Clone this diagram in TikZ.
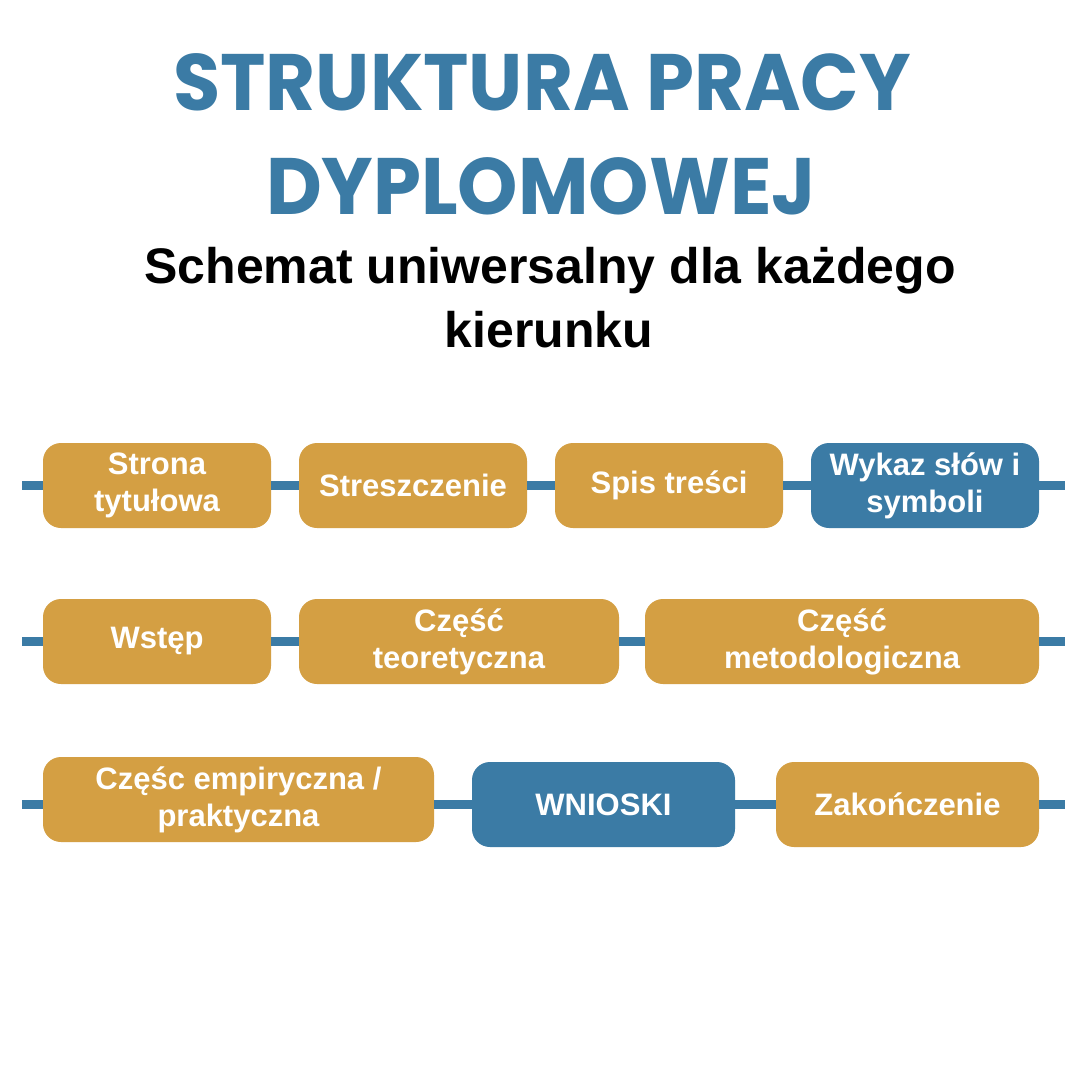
\documentclass[tikz,border=0pt]{standalone}
\usepackage{fontspec}
\setmainfont{Liberation Sans}
\newfontfamily\titlefont{Poppins}
\begin{document}
\begin{tikzpicture}[x=1pt,y=-1pt,
  box/.style={rounded corners=18pt, minimum height=85pt, inner sep=0pt, align=center,
    text=white, font=\fontsize{31}{37}\selectfont\bfseries},
  gold/.style={box, fill=goldc},
  blue/.style={box, fill=bluec},
  conn/.style={draw=bluec, line width=9pt},
  ttl/.style={text=bluec, font=\titlefont\fontsize{80}{100}\selectfont\bfseries, anchor=base, inner sep=0pt},
  sub/.style={text=black, font=\fontsize{50}{60}\selectfont\bfseries, anchor=base, inner sep=0pt}]
\definecolor{goldc}{HTML}{D49F43}
\definecolor{bluec}{HTML}{3B7BA5}
\useasboundingbox[fill=white] (0,0) rectangle (1080,1080);

% titles
\node[ttl] (t1) at (542,110) {\scalebox{0.96}[1]{STRUKTURA PRACY}};
\node[ttl] (t2) at (541,214) {\scalebox{0.96}[1]{DYPLOMOWEJ}};
\node[sub] (s1) at (550,283) {Schemat uniwersalny dla każdego};
\node[sub] (s2) at (549,347) {kierunku};

% edge coordinates
\coordinate (L1) at (22,485.5);  \coordinate (R1) at (1065,485.5);
\coordinate (L2) at (22,641.5);  \coordinate (R2) at (1065,641.5);
\coordinate (L3) at (22,804);    \coordinate (R3) at (1065,804);

% row 1
\node[gold, minimum width=228pt] (a1) at (157,485.5) {Strona\\tytułowa};
\node[gold, minimum width=228pt] (a2) at (413,485.5) {Streszczenie};
\node[gold, minimum width=228pt] (a3) at (669,485.5) {Spis treści};
\node[blue, minimum width=228pt] (a4) at (925,485.5) {Wykaz słów i\\symboli};

% row 2
\node[gold, minimum width=228pt] (b1) at (157,641.5) {Wstęp};
\node[gold, minimum width=320pt] (b2) at (459,641.5) {Część\\teoretyczna};
\node[gold, minimum width=394pt] (b3) at (842,641.5) {Część\\metodologiczna};

% row 3
\node[gold, minimum width=391pt] (c1) at (238.5,799.5) {Częśc empiryczna /\\praktyczna};
\node[blue, minimum width=263pt] (c2) at (603.5,804.5) {WNIOSKI};
\node[gold, minimum width=263pt] (c3) at (907.5,804.5) {Zakończenie};

% connectors
\draw[conn] (L1) -- (a1.west |- L1);
\draw[conn] (a1.east |- L1) -- (a2.west |- L1);
\draw[conn] (a2.east |- L1) -- (a3.west |- L1);
\draw[conn] (a3.east |- L1) -- (a4.west |- L1);
\draw[conn] (a4.east |- L1) -- (R1);
\draw[conn] (L2) -- (b1.west |- L2);
\draw[conn] (b1.east |- L2) -- (b2.west |- L2);
\draw[conn] (b2.east |- L2) -- (b3.west |- L2);
\draw[conn] (b3.east |- L2) -- (R2);
\draw[conn] (L3) -- (c1.west |- L3);
\draw[conn] (c1.east |- L3) -- (c2.west |- L3);
\draw[conn] (c2.east |- L3) -- (c3.west |- L3);
\draw[conn] (c3.east |- L3) -- (R3);
\end{tikzpicture}
\end{document}
